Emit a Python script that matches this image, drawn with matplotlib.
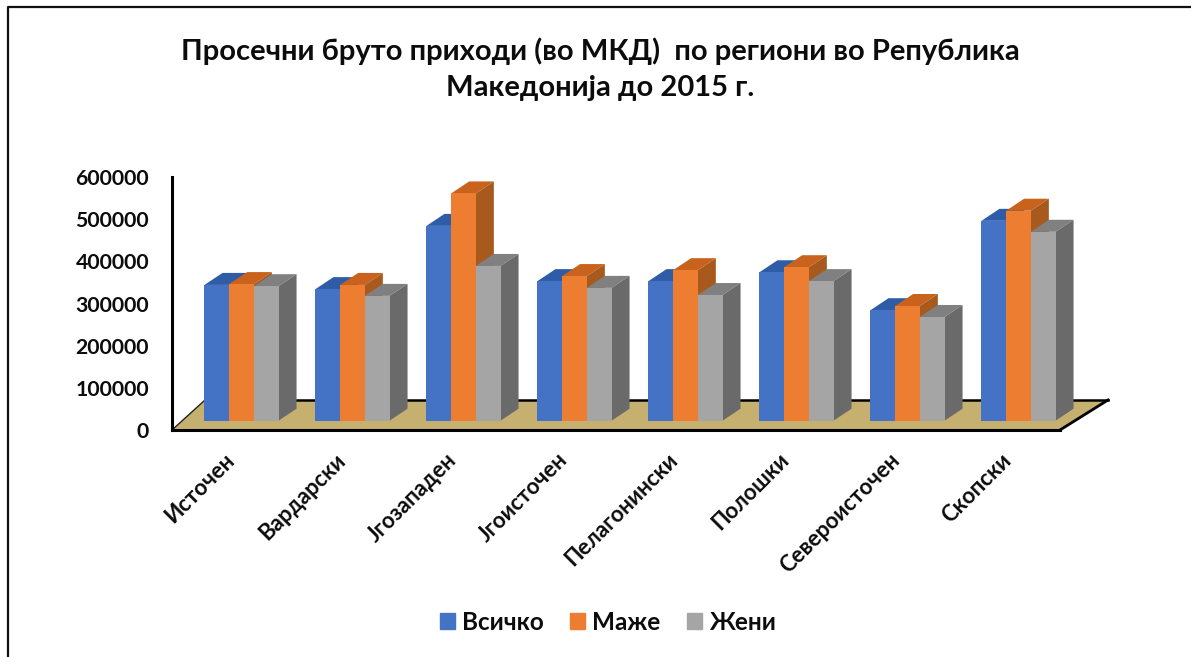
import matplotlib
matplotlib.use("Agg")
import matplotlib.pyplot as plt
from matplotlib.lines import Line2D
from matplotlib.patches import Patch
from matplotlib.transforms import ScaledTranslation

plt.rcParams["font.family"] = ["Lato", "Open Sans", "DejaVu Sans"]
plt.rcParams["font.weight"] = "bold"

regions = ["Источен", "Вардарски", "Јгозападен", "Јгоисточен",
           "Пелагонински", "Полошки", "Североисточен", "Скопски"]
total = [322000, 312000, 462000, 331000, 331000, 352000, 262000, 474000]
men = [324000, 322000, 539000, 343000, 357000, 364000, 272000, 498000]
women = [319000, 296000, 367000, 315000, 298000, 331000, 246000, 448000]
series_names = ["Всичко", "Маже", "Жени"]
y_ticks = [0, 100000, 200000, 300000, 400000, 500000, 600000]

front_colors = ["#4472C4", "#ED7D31", "#A5A5A5"]
top_colors = ["#2F5CA6", "#C8621C", "#808080"]
side_colors = ["#2F5597", "#A85A1E", "#6A6A6A"]
floor_color = "#C6B06F"
ink = "#0C0C0C"

W, H = 1191, 657
fig = plt.figure(figsize=(W / 100, H / 100), dpi=100)

# Plot frame expressed in figure pixels (origin at the top left).
left, right, top, bottom = 172, 1060, 177, 430
ax = fig.add_axes([left / W, 1 - bottom / H, (right - left) / W, (bottom - top) / H])
ax.set_xlim(-0.5, len(regions) - 0.5)
ax.set_ylim(0, 600000)
ax.patch.set_visible(False)

# Conversion factors for the oblique depth projection.
ux = len(regions) / (right - left)
uy = 600000 / (bottom - top)


def px(dx):
    return dx * ux


def py(dy):
    return dy * uy


# Floor of the 3D box.
floor_x = [-0.5, 7.5, 7.5 + px(48), -0.5 + px(33)]
floor_y = [0, 0, py(30), py(30)]
ax.fill(floor_x, floor_y, color=floor_color, zorder=1, clip_on=False, lw=0)
ax.plot(floor_x[2:], floor_y[2:], color="black", lw=1.8, zorder=2, clip_on=False)
ax.plot([floor_x[0], floor_x[3]], [0, py(30)], color="#222222", lw=1, zorder=2, clip_on=False)
ax.plot(floor_x[1:3], floor_y[1:3], color="black", lw=2, zorder=2, clip_on=False)

# Bars: front face, top face and side face sheared by the depth vector.
bar_w = px(24.7)
lift_x, lift_y = px(14), py(9.3)
deep_x, deep_y = px(18), py(12)
z = 3
for i in range(len(regions)):
    for s, values in enumerate((total, men, women)):
        x0 = i + lift_x + (s - 1.5) * bar_w
        x1 = x0 + bar_w
        base = lift_y
        peak = values[i] + lift_y
        ax.fill([x0, x1, x1 + deep_x, x0 + deep_x],
                [peak, peak, peak + deep_y, peak + deep_y],
                color=top_colors[s], lw=0, zorder=z, clip_on=False)
        ax.fill([x1, x1 + deep_x, x1 + deep_x, x1],
                [base, base + deep_y, peak + deep_y, peak],
                color=side_colors[s], lw=0, zorder=z, clip_on=False)
        ax.bar(x0, values[i], width=bar_w, bottom=base, align="edge",
               color=front_colors[s], lw=0, zorder=z + 0.5, clip_on=False)
        z += 1

for name in ("top", "right"):
    ax.spines[name].set_visible(False)
for name in ("left", "bottom"):
    ax.spines[name].set_linewidth(2.2)
    ax.spines[name].set_zorder(200)

ax.set_yticks(y_ticks)
ax.set_yticklabels([str(v) for v in y_ticks])
ax.tick_params(axis="y", length=0, pad=16.5, labelsize=15.3, labelcolor=ink)
ax.set_xticks(range(len(regions)))
ax.set_xticklabels(regions, rotation=45, ha="right", va="top", rotation_mode="anchor",
                   fontsize=16, color=ink)
ax.tick_params(axis="x", length=0, pad=14)
nudge = ScaledTranslation(-4 / 100, 0, fig.dpi_scale_trans)
for label in ax.get_xticklabels():
    label.set_transform(label.get_transform() + nudge)

# Chart title, two centred lines.
fig.text(600 / W, 1 - 51 / H, "Просечни бруто приходи (во МКД)  по региони во Република",
         ha="center", va="center", fontsize=21, color=ink)
fig.text(600 / W, 1 - 88 / H, "Македонија до 2015 г.",
         ha="center", va="center", fontsize=21, color=ink)

handles = [Patch(color=c) for c in front_colors]
fig.legend(handles, series_names, loc="center", bbox_to_anchor=(608 / W, 1 - 622 / H),
           ncol=3, frameon=False, fontsize=17.5, handlelength=0.6, handleheight=0.6,
           handletextpad=0.3, columnspacing=1.1, labelcolor=ink)

# Frame lines along the left and top edges of the chart area.
fig.add_artist(Line2D([7.5 / W, 7.5 / W, 1], [0, 1 - 6.5 / H, 1 - 6.5 / H],
                      transform=fig.transFigure, color="#111111", lw=1.6))

fig.savefig("out.png", dpi=100)
